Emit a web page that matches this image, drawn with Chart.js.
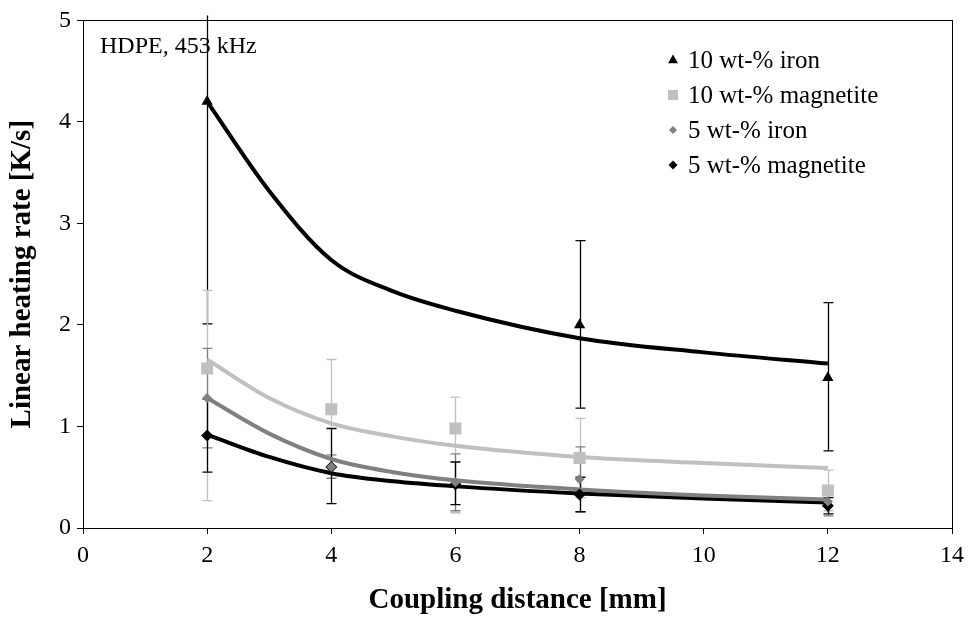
<!DOCTYPE html>
<html>
<head>
<meta charset="utf-8">
<script src="https://cdn.jsdelivr.net/npm/chart.js@4.4.0/dist/chart.umd.min.js"></script>
<style>
  html, body { margin: 0; padding: 0; background: #fff; }
  #wrap { width: 971px; height: 621px; }
</style>
</head>
<body>
<div id="wrap"><canvas id="myChart" width="971" height="621"></canvas></div>
<script>
const ctx = document.getElementById('myChart');

// measured points (x = coupling distance in mm)
const iron10X = [2, 8, 12];
const iron10Y = [4.2, 2.0, 1.48];
const iron10Lo = [2.01, 1.18, 0.76];
const iron10Hi = [6.4, 2.83, 2.22];

const mag10X = [2, 4, 6, 8, 12];
const mag10Y = [1.57, 1.17, 0.98, 0.69, 0.37];
const mag10Lo = [0.27, 0.68, 0.15, 0.30, 0.17];
const mag10Hi = [2.34, 1.66, 1.29, 1.08, 0.57];

const iron5X = [2, 4, 6, 8, 12];
const iron5Y = [1.28, 0.60, 0.45, 0.48, 0.26];
const iron5Lo = [0.79, 0.49, 0.17, 0.16, 0.12];
const iron5Hi = [1.77, 0.72, 0.73, 0.80, 0.40];

const mag5X = [2, 4, 6, 8, 12];
const mag5Y = [0.91, 0.60, 0.43, 0.33, 0.22];
const mag5Lo = [0.55, 0.24, 0.23, 0.16, 0.14];
const mag5Hi = [1.27, 0.98, 0.65, 0.50, 0.30];

// fitted curves
const fitX = [2, 3, 4, 5, 6, 8, 10, 12];
const fitIron10 = [4.20, 3.32, 2.64, 2.33, 2.14, 1.87, 1.73, 1.62];
const fitMag10 = [1.66, 1.28, 1.03, 0.90, 0.81, 0.70, 0.64, 0.59];
const fitIron5 = [1.28, 0.93, 0.68, 0.55, 0.47, 0.38, 0.32, 0.28];
const fitMag5 = [0.92, 0.70, 0.54, 0.46, 0.41, 0.34, 0.29, 0.25];

const xTicks = [0, 2, 4, 6, 8, 10, 12, 14];
const yTicks = [0, 1, 2, 3, 4, 5];

const serif = "'Liberation Serif', 'Times New Roman', serif";

function pts(xs, ys) {
  return xs.map((x, i) => ({x: x, y: ys[i]}));
}

function markerSet(label, xs, ys, lo, hi, color, style, radius) {
  return {
    label: label,
    data: pts(xs, ys),
    showLine: false,
    pointStyle: style,
    pointRadius: radius,
    pointHoverRadius: radius,
    pointBackgroundColor: color,
    pointBorderColor: color,
    pointBorderWidth: 0,
    errLo: lo,
    errHi: hi,
    errColor: color,
    order: 0
  };
}

function fitSet(ys, color) {
  return {
    label: '',
    data: pts(fitX, ys),
    showLine: true,
    borderColor: color,
    borderWidth: 4,
    pointRadius: 0,
    cubicInterpolationMode: 'monotone',
    fill: false,
    order: 1
  };
}

const errorBars = {
  id: 'errorBars',
  beforeDatasetsDraw(chart) {
    const c = chart.ctx;
    const a = chart.chartArea;
    const xs = chart.scales.x, ys = chart.scales.y;
    c.save();
    c.beginPath();
    c.rect(a.left, a.top - 5, a.right - a.left, a.bottom - a.top + 5);
    c.clip();
    chart.data.datasets.forEach(ds => {
      if (!ds.errLo) return;
      c.strokeStyle = ds.errColor;
      c.lineWidth = 1.3;
      ds.data.forEach((p, i) => {
        const px = Math.round(xs.getPixelForValue(p.x)) + 0.5;
        const y1 = ys.getPixelForValue(ds.errLo[i]);
        const y2 = ys.getPixelForValue(ds.errHi[i]);
        c.beginPath();
        c.moveTo(px, y1); c.lineTo(px, y2);
        c.moveTo(px - 5, y1); c.lineTo(px + 5, y1);
        c.moveTo(px - 5, y2); c.lineTo(px + 5, y2);
        c.stroke();
      });
    });
    c.restore();
  }
};

function drawMark(c, style, x, y, r, color) {
  c.fillStyle = color;
  c.beginPath();
  if (style === 'triangle') {
    c.moveTo(x, y - r); c.lineTo(x + r * 0.9, y + r * 0.6); c.lineTo(x - r * 0.9, y + r * 0.6);
  } else if (style === 'rect') {
    c.rect(x - r, y - r, 2 * r, 2 * r);
  } else {
    c.moveTo(x, y - r); c.lineTo(x + r, y); c.lineTo(x, y + r); c.lineTo(x - r, y);
  }
  c.closePath();
  c.fill();
}

const boxAndLegend = {
  id: 'boxAndLegend',
  afterDraw(chart) {
    const c = chart.ctx;
    const a = chart.chartArea;
    c.save();
    c.strokeStyle = '#000';
    c.lineWidth = 1;
    c.strokeRect(Math.round(a.left) + 0.5, Math.round(a.top) + 0.5,
      Math.round(a.right - a.left), Math.round(a.bottom - a.top));

    c.font = '24px ' + serif;
    c.fillStyle = '#000';
    c.textBaseline = 'middle';
    c.textAlign = 'left';
    c.fillText('HDPE, 453 kHz', 100, 47);

    const items = [
      {text: '10 wt-% iron', style: 'triangle', r: 5.5, color: '#000'},
      {text: '10 wt-% magnetite', style: 'rect', r: 5, color: '#c0c0c0'},
      {text: '5 wt-% iron', style: 'diamond', r: 4, color: '#808080'},
      {text: '5 wt-% magnetite', style: 'diamond', r: 4.5, color: '#000'}
    ];
    c.font = '25px ' + serif;
    items.forEach((it, i) => {
      const y = 60 + i * 35;
      drawMark(c, it.style, 673, y, it.r, it.color);
      c.fillStyle = '#000';
      c.fillText(it.text, 688, y + 1);
    });
    c.restore();
  }
};

new Chart(ctx, {
  type: 'scatter',
  data: {
    datasets: [
      fitSet(fitIron10, '#000000'),
      fitSet(fitMag10, '#c0c0c0'),
      fitSet(fitIron5, '#808080'),
      fitSet(fitMag5, '#000000'),
      markerSet('10 wt-% iron', iron10X, iron10Y, iron10Lo, iron10Hi, '#000000', 'triangle', 6.5),
      markerSet('10 wt-% magnetite', mag10X, mag10Y, mag10Lo, mag10Hi, '#c0c0c0', 'rect', 8.5),
      markerSet('5 wt-% iron', iron5X, iron5Y, iron5Lo, iron5Hi, '#808080', 'rectRot', 5),
      markerSet('5 wt-% magnetite', mag5X, mag5Y, mag5Lo, mag5Hi, '#000000', 'rectRot', 6)
    ]
  },
  options: {
    responsive: false,
    animation: false,
    layout: { padding: { left: 0, top: 16, right: 18, bottom: 0 } },
    plugins: {
      legend: { display: false },
      tooltip: { enabled: false }
    },
    scales: {
      x: {
        type: 'linear',
        min: 0,
        max: 14,
        afterBuildTicks: s => { s.ticks = xTicks.map(v => ({value: v})); },
        afterFit: s => { s.height = 93; },
        grid: { drawOnChartArea: false, drawTicks: true, tickLength: 6, color: '#000' },
        border: { color: '#000', width: 1 },
        ticks: { color: '#000', font: { family: serif, size: 24 }, padding: 7, maxRotation: 0 },
        title: {
          display: true,
          text: 'Coupling distance [mm]',
          color: '#000',
          font: { family: serif, size: 29, weight: 'bold' },
          padding: { top: 0, bottom: 3 }
        }
      },
      y: {
        type: 'linear',
        min: 0,
        max: 5,
        afterBuildTicks: s => { s.ticks = yTicks.map(v => ({value: v})); },
        afterFit: s => { s.width = 83; },
        grid: { drawOnChartArea: false, drawTicks: true, tickLength: 6, color: '#000' },
        border: { color: '#000', width: 1 },
        ticks: { color: '#000', font: { family: serif, size: 24 }, padding: 6 },
        title: {
          display: true,
          text: 'Linear heating rate [K/s]',
          color: '#000',
          font: { family: serif, size: 29, weight: 'bold' },
          padding: { top: 5, bottom: 0 }
        }
      }
    }
  },
  plugins: [errorBars, boxAndLegend]
});
</script>
</body>
</html>
